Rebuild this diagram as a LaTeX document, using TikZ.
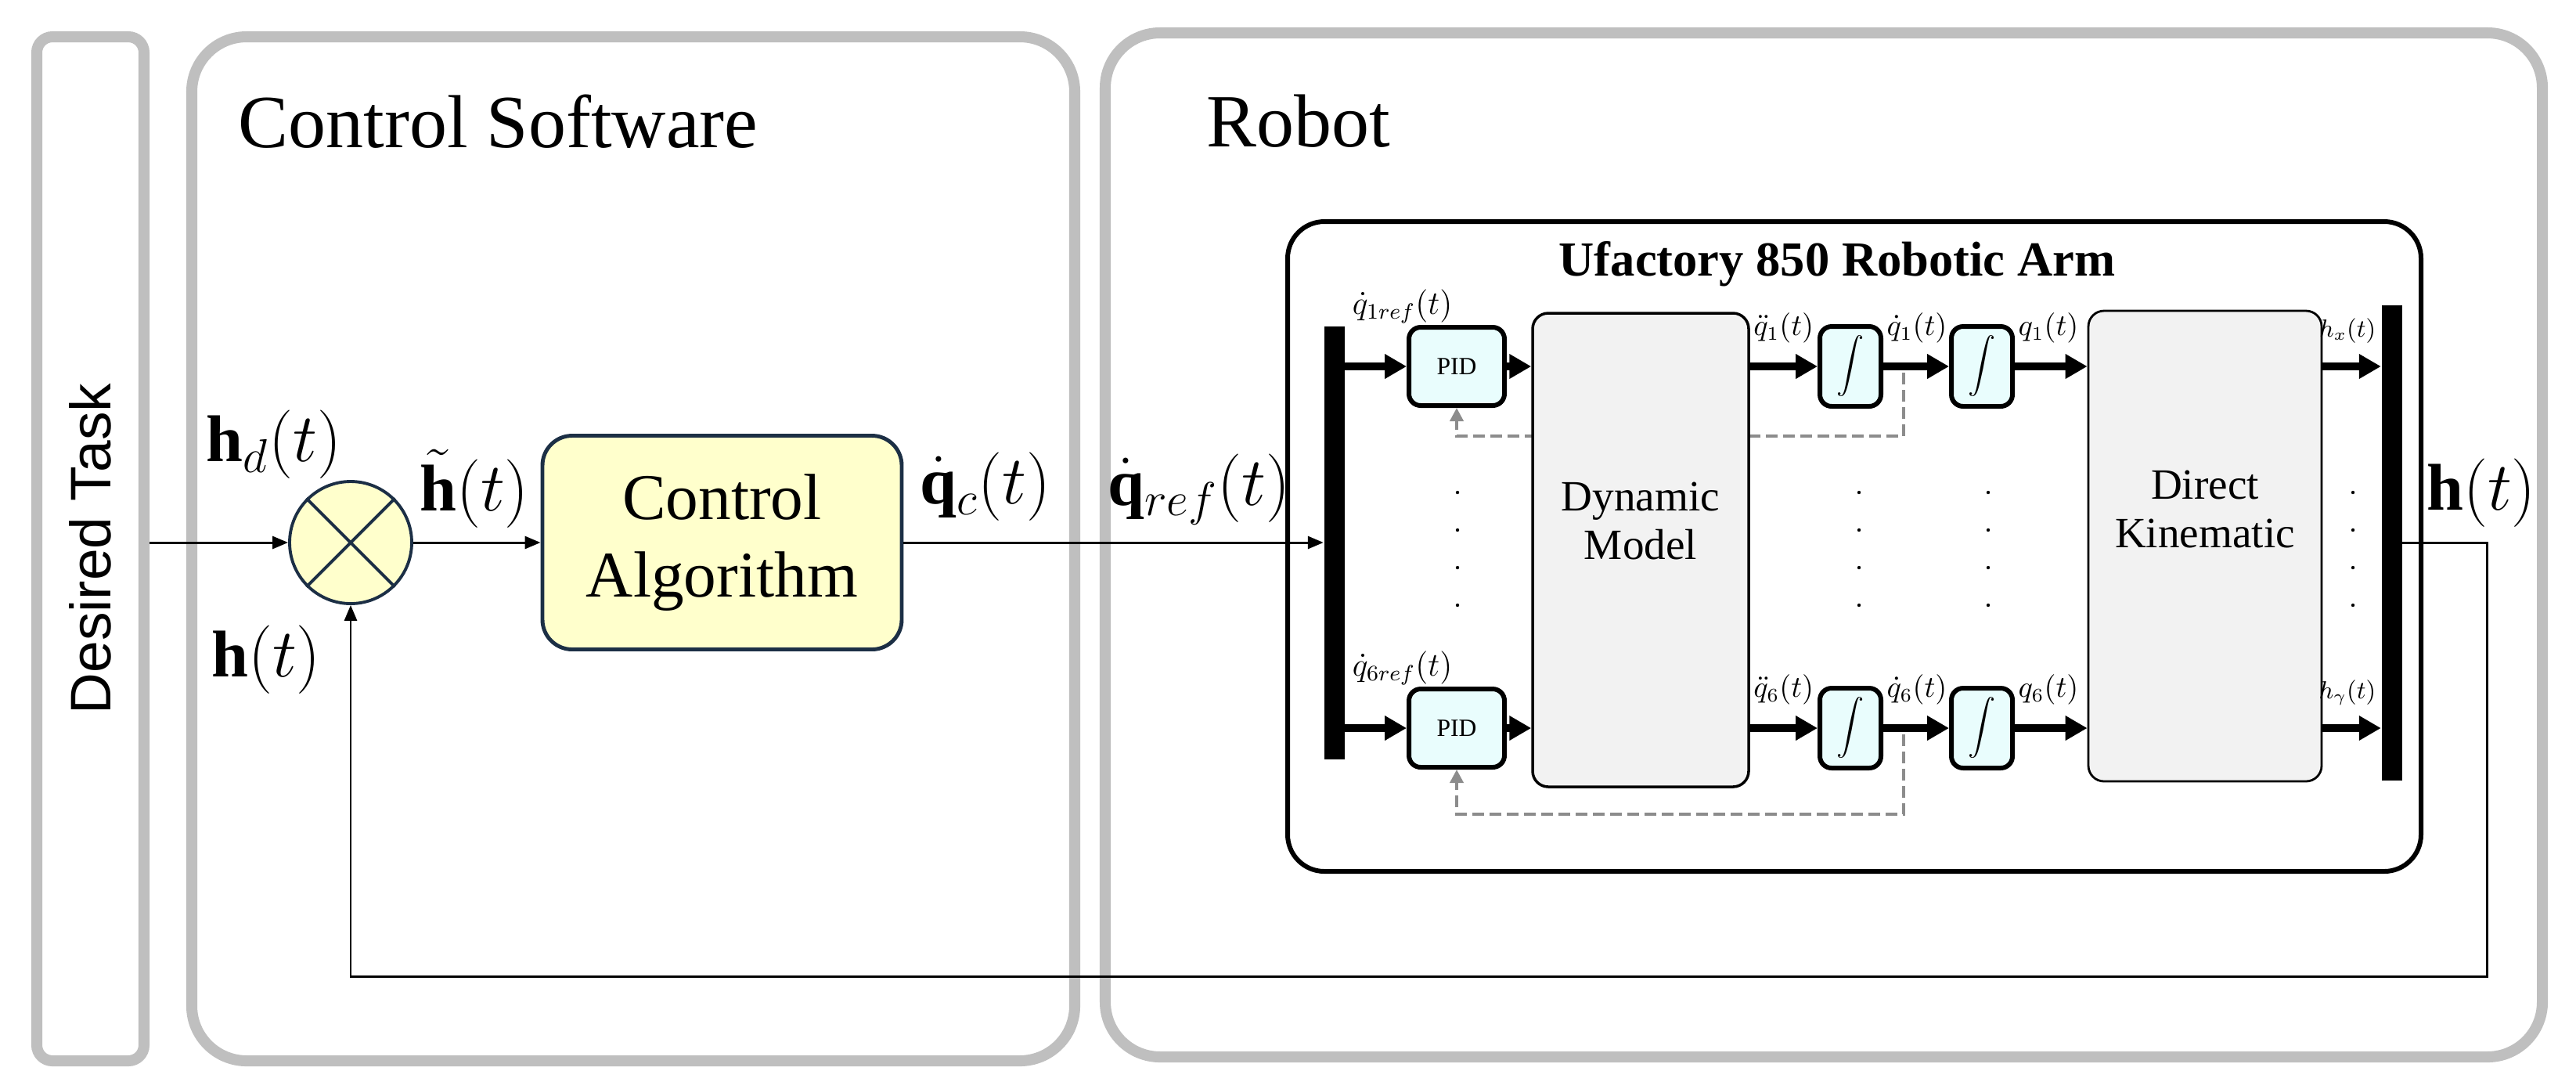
\documentclass[tikz,border=0pt]{standalone}
\usepackage{amsmath}
\usepackage{fontspec}
\setmainfont{Liberation Serif}
\newfontfamily\tasksans{Liberation Sans}
\usetikzlibrary{arrows.meta,backgrounds}

\definecolor{panelgray}{HTML}{BFBFBF}
\definecolor{pidcyan}{HTML}{E9FDFD}
\definecolor{plantgray}{HTML}{F2F2F2}
\definecolor{algyellow}{HTML}{FFFFCC}
\definecolor{algnavy}{HTML}{1C2F45}
\definecolor{dashgray}{HTML}{8C8C8C}

\tikzset{
  panel/.style={draw=panelgray, line width=4pt, rounded corners=0.7cm},
  pidbox/.style={draw, fill=pidcyan, line width=1.7pt, rounded corners=0.15cm,
    inner sep=0pt, minimum width=1.22cm, minimum height=1cm, font=\fontsize{9}{10}\selectfont},
  intbox/.style={pidbox, minimum width=0.78cm, minimum height=1.02cm, font=\fontsize{10}{12}\selectfont},
  plant/.style={draw, fill=plantgray, line width=1pt, rounded corners=0.2cm},
  plantlab/.style={align=center, font=\fontsize{15.7}{17.8}\selectfont},
  muxbar/.style={fill=black, inner sep=0pt, minimum width=0.26cm},
  bus/.style={line width=2.6pt, -{Triangle[length=0.28cm,width=0.3cm]}},
  sig/.style={line width=0.85pt, -{Triangle[length=0.2cm,width=0.16cm]}},
  fbk/.style={draw=dashgray, line width=1.1pt, dash pattern=on 0.15cm off 0.07cm,
    -{Triangle[length=0.17cm,width=0.17cm]}},
  lab/.style={above right, inner sep=0pt, yshift=0.25cm, font=\fontsize{10.5}{12}\selectfont},
  outlab/.style={lab, anchor=south east, xshift=-0.02cm, font=\fontsize{9.2}{11}\selectfont},
  reflab/.style={above right, inner sep=0pt, xshift=0.05cm, yshift=0.5cm, font=\fontsize{12}{14}\selectfont},
  biglab/.style={inner sep=0pt, font=\fontsize{24}{28}\selectfont},
  paneltitle/.style={anchor=base west, inner sep=0pt, font=\fontsize{27.3}{32}\selectfont}
}

\begin{document}
\begin{tikzpicture}
    \useasboundingbox (0,0) rectangle (32.91,-13.90);

    % 外层灰色面板
    \node[panel, rounded corners=0.2cm, minimum width=13.08cm, minimum height=1.37cm,
      rotate=90, font=\tasksans\fontsize{20.8}{24}\selectfont] (task) at (1.155,-7.01) {Desired Task};
    \node[panel, minimum width=11.28cm, minimum height=13.08cm] (soft) at (8.09,-7.01) {};
    \node[panel, minimum width=18.36cm, minimum height=13.08cm] (robot) at (23.30,-6.96) {};
    \node[paneltitle] (softtitle) at (3.04,-1.88) {Control Software};
    \node[paneltitle] (robottitle) at (15.41,-1.87) {Robot};

    % 机械臂框
    \node[draw, line width=1.7pt, rounded corners=0.47cm, minimum width=14.48cm,
      minimum height=8.30cm] (arm) at (23.69,-6.98) {};
    \node[anchor=base, inner sep=0pt, font=\bfseries\fontsize{17.8}{20}\selectfont] (armtitle)
      at (23.47,-3.52) {Ufactory 850 Robotic Arm};

    % 比较器与控制算法
    \node[circle, draw=algnavy, fill=algyellow, line width=1.1pt, minimum size=1.56cm,
      inner sep=0pt] (sum) at (4.48,-6.93) {};
    \draw[algnavy, line width=1.1pt] (sum.north west) -- (sum.south east)
      (sum.north east) -- (sum.south west);
    \node[draw=algnavy, fill=algyellow, line width=1.4pt, rounded corners=0.38cm,
      minimum width=4.59cm, minimum height=2.73cm, align=center,
      font=\fontsize{23.7}{28}\selectfont] (alg) at (9.225,-6.93) {Control\\Algorithm};

    % 分路与汇总条
    \node[muxbar, minimum height=5.53cm] (mux) at (17.045,-6.93) {};
    \node[muxbar, minimum height=6.07cm] (demux) at (30.555,-6.93) {};

    % 关节通道方块
    \node[pidbox] (pid1) at (18.61,-4.68) {PID};
    \node[pidbox] (pid6) at (18.61,-9.30) {PID};
    \node[plant, minimum width=2.76cm, minimum height=6.05cm,
      label={[plantlab, yshift=0.37cm]center:Dynamic\\Model}] (dyn) at (20.96,-7.025) {};
    \node[intbox] (int1a) at (23.64,-4.68) {$\displaystyle\int$};
    \node[intbox] (int1b) at (25.32,-4.68) {$\displaystyle\int$};
    \node[intbox] (int6a) at (23.64,-9.30) {$\displaystyle\int$};
    \node[intbox] (int6b) at (25.32,-9.30) {$\displaystyle\int$};
    \node[plant, line width=0.8pt, minimum width=2.98cm, minimum height=6.01cm,
      label={[plantlab, yshift=0.47cm]center:Direct\\Kinematic}] (dk) at (28.17,-6.975) {};

    % 第一关节
    \draw[bus] (mux.east |- pid1) -- (pid1) node[reflab, pos=0] {$\dot{q}_{1ref}(t)$};
    \draw[bus] (pid1) -- (pid1 -| dyn.west);
    \draw[bus] (dyn.east |- int1a) -- (int1a) node[lab, pos=0] {$\ddot{q}_{1}(t)$};
    \draw[bus] (int1a) -- (int1b) node[lab, pos=0] {$\dot{q}_{1}(t)$};
    \draw[bus] (int1b) -- (int1b -| dk.west) node[lab, pos=0] {$q_{1}(t)$};
    \draw[bus] (dk.east |- int1b) -- (int1b -| demux.west) node[outlab, pos=1] {$h_{x}(t)$};

    % 第六关节
    \draw[bus] (mux.east |- pid6) -- (pid6) node[reflab, pos=0] {$\dot{q}_{6ref}(t)$};
    \draw[bus] (pid6) -- (pid6 -| dyn.west);
    \draw[bus] (dyn.east |- int6a) -- (int6a) node[lab, pos=0] {$\ddot{q}_{6}(t)$};
    \draw[bus] (int6a) -- (int6b) node[lab, pos=0] {$\dot{q}_{6}(t)$};
    \draw[bus] (int6b) -- (int6b -| dk.west) node[lab, pos=0] {$q_{6}(t)$};
    \draw[bus] (dk.east |- int6b) -- (int6b -| demux.west) node[outlab, pos=1] {$h_{\gamma}(t)$};

    % PID 速度反馈 (虚线)
    \coordinate (tap1) at (24.32,-4.76);
    \coordinate (ret1) at (18.61,-5.57);
    \coordinate (tap6) at (24.32,-9.38);
    \coordinate (ret6) at (18.61,-10.40);
    \begin{scope}[on background layer]
        \draw[fbk] (tap1) |- (ret1) -- (pid1.south);
        \draw[fbk] (tap6) |- (ret6) -- (pid6.south);
    \end{scope}

    % 通道之间的省略点
    \foreach \x in {18.62,23.75,25.40,30.06}
        \foreach \y in {6.29,6.77,7.25,7.73}
            \fill (\x,-\y) circle (0.022);

    % 主信号线与反馈
    \draw[sig] (task.south |- sum) -- (sum);
    \draw[sig] (sum) -- (alg);
    \draw[sig] (alg) -- (mux);
    \coordinate (fbcorner) at (31.77,-12.47);
    \draw[sig] (demux) -| (fbcorner) -| (sum);

    % 信号标记
    \node[biglab] (hdlab) at (3.50,-5.68) {$\mathbf{h}_{d}(t)$};
    \node[biglab] (hlab) at (3.40,-8.43) {$\mathbf{h}(t)$};
    \node[biglab] (htlab) at (6.06,-6.24) {$\tilde{\mathbf{h}}(t)$};
    \node[biglab] (qclab) at (12.59,-6.22) {$\dot{\mathbf{q}}_{c}(t)$};
    \node[biglab] (qreflab) at (15.32,-6.25) {$\dot{\mathbf{q}}_{ref}(t)$};
    \node[biglab] (houtlab) at (31.70,-6.30) {$\mathbf{h}(t)$};

\end{tikzpicture}
\end{document}
